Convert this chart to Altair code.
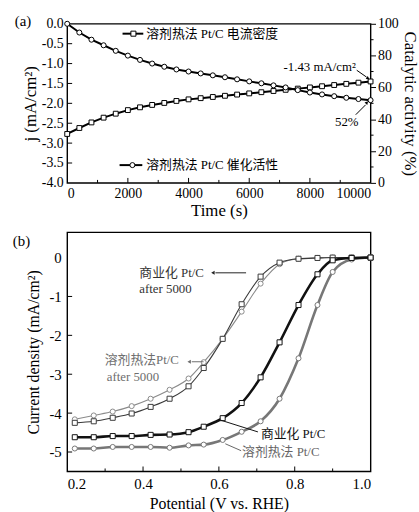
import altair as alt
import pandas as pd

# ---------------- data ----------------
time_s = [0, 400, 800, 1200, 1600, 2000, 2400, 2800, 3200, 3600, 4000, 4400, 4800,
          5200, 5600, 6000, 6400, 6800, 7200, 7600, 8000, 8400, 8800, 9200, 9600, 10000]
current_j = [-2.77, -2.62, -2.48, -2.36, -2.26, -2.17, -2.10, -2.04, -1.99, -1.94, -1.90,
             -1.87, -1.84, -1.81, -1.78, -1.75, -1.72, -1.69, -1.66, -1.63, -1.60, -1.57,
             -1.54, -1.51, -1.48, -1.45]
activity_pct = [100, 94.5, 90, 86.5, 83, 80, 77.3, 75, 73, 71.3, 70, 68.8, 67.6, 66.4,
                65.1, 63.8, 62.6, 61.3, 60, 58.3, 56.8, 55.6, 54.5, 53.5, 52.7, 52]

potential = [0.22, 0.27, 0.32, 0.37, 0.42, 0.47, 0.52, 0.56, 0.61, 0.66, 0.71, 0.76,
             0.81, 0.86, 0.90, 0.95, 1.00]
comm_after = [-4.25, -4.21, -4.12, -4.01, -3.84, -3.63, -3.31, -2.84, -2.09, -1.20, -0.49,
              -0.13, -0.03, -0.01, 0, 0, 0]
solv_after = [-4.16, -4.06, -3.96, -3.82, -3.63, -3.40, -3.11, -2.69, -2.09, -1.39, -0.67,
              -0.17, -0.03, -0.01, 0, 0, 0]
comm_fresh = [-4.62, -4.62, -4.59, -4.59, -4.56, -4.55, -4.49, -4.35, -4.13, -3.74, -3.08,
              -2.18, -1.22, -0.43, -0.07, -0.01, 0]
solv_fresh = [-4.91, -4.91, -4.87, -4.87, -4.87, -4.89, -4.83, -4.81, -4.69, -4.48, -4.21,
              -3.63, -2.59, -1.22, -0.37, -0.05, 0]

legend_a = ["溶剂热法 Pt/C 电流密度", "溶剂热法 Pt/C 催化活性"]
note_a = ["-1.43 mA/cm²", "52%"]
labels_b = ["商业化 Pt/C", "after 5000", "溶剂热法Pt/C", "after 5000", "商业化 Pt/C", "溶剂热法 Pt/C"]
panel_tags = ["(a)", "(b)"]

xa_ticks = [0, 2000, 4000, 6000, 8000, 10000]
xa_minor = [1000, 3000, 5000, 7000, 9000]
ja_ticks = [-4.0, -3.5, -3.0, -2.5, -2.0, -1.5, -1.0, -0.5, 0.0]
act_ticks = [0, 20, 40, 60, 80, 100]
act_minor = [10, 30, 50, 70, 90]
xb_ticks = [0.2, 0.4, 0.6, 0.8, 1.0]
xb_minor = [0.3, 0.5, 0.7, 0.9]
yb_ticks = [0, -1, -2, -3, -4, -5]

# ---------------- style ----------------
FONT = "Liberation Serif, Noto Sans CJK SC"
W = 307
HA = 161
HB = 242
FIX = "replace(datum.label, '\u2212', '-')"


def axis(**kw):
    base = dict(labelFont=FONT, titleFont=FONT, labelFontSize=13, titleFontSize=15,
                labelColor="black", titleColor="black", titleFontWeight="normal",
                domain=False, grid=False, labelExpr=FIX)
    base.update(kw)
    return alt.Axis(**base)


def text_mark(label, x, y, size=13, color="black", align="left"):
    return alt.Chart(pd.DataFrame({"label": [label]})).mark_text(
        font=FONT, fontSize=size, color=color, align=align, baseline="middle"
    ).encode(x=alt.value(x), y=alt.value(y), text="label:N")


def seg(x1, y1, x2, y2, color="black", width=1.0):
    return alt.Chart(pd.DataFrame({"k": [0]})).mark_rule(color=color, strokeWidth=width).encode(
        x=alt.value(x1), y=alt.value(y1), x2=alt.value(x2), y2=alt.value(y2))


def head(x, y, angle, color="black", size=22):
    return alt.Chart(pd.DataFrame({"k": [0]})).mark_point(
        shape="triangle", filled=True, color=color, size=size, angle=angle, opacity=1
    ).encode(x=alt.value(x), y=alt.value(y))


def legend_marker(x, y, shape):
    return alt.Chart(pd.DataFrame({"k": [0]})).mark_point(
        shape=shape, filled=True, fill="white", stroke="black", strokeWidth=1, size=26, opacity=1
    ).encode(x=alt.value(x), y=alt.value(y))


# ---------------- panel (a) ----------------
dfa = pd.DataFrame({"t": time_s, "j": current_j, "act": activity_pct})

xa = alt.X("t:Q", scale=alt.Scale(domain=[0, 10000], nice=False),
           axis=axis(title="Time (s)", values=xa_ticks, format="d", tickSize=0,
                     labelPadding=4, titleFontSize=17, titlePadding=2, labelFontSize=14))
ya = alt.Y("j:Q", scale=alt.Scale(domain=[-4, 0], nice=False),
           axis=axis(title="j (mA/cm²)", values=ja_ticks, format=".1f", tickSize=0,
                     labelPadding=4, orient="left", titlePadding=2, labelFontSize=14,
                     titleFontSize=17))
yact = alt.Y("act:Q", scale=alt.Scale(domain=[0, 100], nice=False),
             axis=axis(title="Catalytic activity (%)", values=act_ticks, format="d",
                       tickSize=5, tickColor="black", labelPadding=2, orient="right",
                       titlePadding=2, labelFontSize=14, titleFontSize=17))

j_line = alt.Chart(dfa).mark_line(
    color="black", strokeWidth=2,
    point=alt.OverlayMarkDef(shape="square", filled=True, fill="white", stroke="black",
                             strokeWidth=1, size=24, opacity=1)
).encode(x=xa, y=ya)

x_tick_rules = alt.Chart(pd.DataFrame({"t": xa_ticks[1:-1]})).mark_rule(color="black").encode(
    x=xa, y=alt.value(HA), y2=alt.value(HA - 5))
x_minor_rules = alt.Chart(pd.DataFrame({"t": xa_minor})).mark_rule(color="black").encode(
    x=xa, y=alt.value(HA), y2=alt.value(HA - 3))
y_tick_rules = alt.Chart(pd.DataFrame({"j": ja_ticks[1:-1]})).mark_rule(color="black").encode(
    y=ya, x=alt.value(0), x2=alt.value(5))

j_layer = alt.layer(
    x_tick_rules, x_minor_rules, y_tick_rules, j_line,
    seg(56, 10, 77, 10, width=2), legend_marker(67, 10, "square"),
    text_mark(legend_a[0], 80, 10),
    seg(53, 143, 76, 143, width=2), legend_marker(66, 143, "circle"),
    text_mark(legend_a[1], 80, 143),
    text_mark(note_a[0], 292, 44, size=13, align="right"),
    seg(293, 47, 303, 54), head(304, 55, 124, size=14),
    text_mark(note_a[1], 271, 99, size=13),
    seg(292, 92, 302, 82), head(303, 80, 42, size=14),
    text_mark(panel_tags[0], -53, -3, size=15),
)

act_line = alt.Chart(dfa).mark_line(
    color="black", strokeWidth=2,
    point=alt.OverlayMarkDef(shape="circle", filled=True, fill="white", stroke="black",
                             strokeWidth=1, size=26, opacity=1)
).encode(x=xa, y=yact)
act_minor_rules = alt.Chart(pd.DataFrame({"act": act_minor})).mark_rule(color="black").encode(
    y=yact, x=alt.value(W), x2=alt.value(W + 3))
act_layer = alt.layer(act_minor_rules, act_line)

panel_a = alt.layer(j_layer, act_layer).resolve_scale(y="independent").properties(
    width=W, height=HA)

# ---------------- panel (b) ----------------
dfb = pd.DataFrame({"v": potential * 4,
                    "i": comm_after + solv_after + comm_fresh + solv_fresh,
                    "s": ["ca"] * 17 + ["sa"] * 17 + ["cf"] * 17 + ["sf"] * 17})

xb = alt.X("v:Q", scale=alt.Scale(domain=[0.2, 1.0], nice=False),
           axis=axis(title="Potential (V vs. RHE)", values=xb_ticks, format=".1f", tickSize=0,
                     labelPadding=5, titlePadding=4, labelFontSize=15, titleFontSize=16))
yb = alt.Y("i:Q", scale=alt.Scale(domain=[-5.5, 0.65], nice=False),
           axis=axis(title="Current density (mA/cm²)", values=yb_ticks, format="d",
                     tickSize=0, labelPadding=6, titlePadding=8, labelFontSize=15,
                     titleFontSize=16))


def curve(key, color, width, shape):
    return alt.Chart(dfb).transform_filter(alt.datum.s == key).mark_line(
        color=color, strokeWidth=width, interpolate="monotone",
        point=alt.OverlayMarkDef(shape=shape, filled=True, fill="white", stroke=color,
                                 strokeWidth=1, size=26, opacity=1)
    ).encode(x=xb, y=yb)


xb_rules = alt.Chart(pd.DataFrame({"v": xb_ticks[1:-1]})).mark_rule(color="black").encode(
    x=xb, y=alt.value(HB), y2=alt.value(HB - 5))
xb_minor_rules = alt.Chart(pd.DataFrame({"v": xb_minor})).mark_rule(color="black").encode(
    x=xb, y=alt.value(HB), y2=alt.value(HB - 3))
yb_rules = alt.Chart(pd.DataFrame({"i": yb_ticks[1:]})).mark_rule(color="black").encode(
    y=yb, x=alt.value(0), x2=alt.value(5))

panel_b = alt.layer(
    xb_rules, xb_minor_rules, yb_rules,
    curve("sa", "#8a8a8a", 1.1, "circle"),
    curve("ca", "#3a3a3a", 1.1, "square"),
    curve("sf", "#777777", 2.6, "circle"),
    curve("cf", "#111111", 2.6, "square"),
    text_mark(labels_b[0], 73, 41, color="#333333"),
    text_mark(labels_b[1], 73, 57, color="#333333"),
    seg(181, 41, 150, 41, color="#222222"), head(148, 41, 270, color="#222222", size=16),
    text_mark(labels_b[2], 38, 129, color="#6e6e6e"),
    text_mark(labels_b[3], 40, 146, color="#6e6e6e"),
    seg(138, 131, 126, 131, color="#6e6e6e"), head(124, 131, 270, color="#6e6e6e", size=16),
    text_mark(labels_b[4], 196, 204, color="#111111"),
    seg(155, 190, 193, 202, color="#111111"),
    text_mark(labels_b[5], 177, 222, color="#666666"),
    seg(160, 214, 176, 221, color="#666666"),
    text_mark(panel_tags[1], -55, 9, size=15),
).properties(width=W, height=HB)

chart = alt.vconcat(panel_a, panel_b, spacing=12).properties(
    padding={"left": 12, "top": 10, "right": 0, "bottom": 0}, background="white"
).configure_view(stroke="black", strokeWidth=1.4)

chart.save("out.html", embed_options={"renderer": "svg", "actions": False})
